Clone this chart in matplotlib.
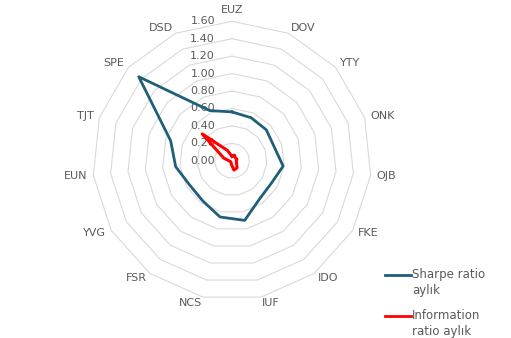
import matplotlib.pyplot as plt
import numpy as np
from matplotlib.lines import Line2D
from matplotlib.transforms import offset_copy

categories = ['EUZ', 'DOV', 'YTY', 'ONK', 'OJB', 'FKE', 'IDO', 'IUF',
              'NCS', 'FSR', 'YVG', 'EUN', 'TJT', 'SPE', 'DSD']
sharpe = [0.56, 0.54, 0.53, 0.51, 0.59, 0.52, 0.54, 0.70,
          0.66, 0.57, 0.56, 0.65, 0.74, 1.44, 0.63]
information = [0.05, 0.07, 0.05, 0.06, 0.05, 0.06, 0.10, 0.11,
               0.04, 0.02, 0.02, 0.03, 0.10, 0.46, 0.13]
ring_levels = [0.2, 0.4, 0.6, 0.8, 1.0, 1.2, 1.4, 1.6]
tick_levels = [0.0] + ring_levels

grid_col = '#d9d9d9'
text_col = '#595959'
blue = '#1f5f7a'
red = '#ff0000'

n = len(categories)
theta = np.arange(n) * 2 * np.pi / n
theta_closed = np.append(theta, theta[0])

fig = plt.figure(figsize=(5.11, 3.38), dpi=100)
ax = fig.add_axes([0.181, 0.112, 0.546, 0.825], projection='polar')
ax.set_theta_zero_location('N')
ax.set_theta_direction(-1)
ax.set_ylim(0, 1.6)
ax.grid(False)
ax.set_xticks([])
ax.set_yticks([])
ax.spines['polar'].set_visible(False)
ax.patch.set_visible(False)

# polygon rings (no spokes)
for lvl in ring_levels:
    ax.plot(theta_closed, [lvl] * (n + 1), color=grid_col, lw=0.8, clip_on=False, zorder=1)

# radial value labels, left of the top axis
lab_tr = offset_copy(ax.transData, fig=fig, x=-17, y=0, units='dots')
for lvl in tick_levels:
    ax.text(0, lvl, f'{lvl:.2f}', transform=lab_tr, ha='right', va='center',
            fontsize=8, color=text_col, zorder=2)

# category labels around the outside
for t, name in zip(theta, categories):
    s = np.sin(t)
    if abs(s) < 0.05:
        ha = 'center'
    elif s > 0:
        ha = 'left'
    else:
        ha = 'right'
    va = 'bottom' if np.cos(t) > 0.99 else 'center'
    ax.text(t, 1.67, name, ha=ha, va=va, fontsize=8, color=text_col)

ax.plot(theta_closed, sharpe + sharpe[:1], color=blue, lw=2.0,
        solid_joinstyle='round', zorder=3, clip_on=False)
ax.plot(theta_closed, information + information[:1], color=red, lw=2.2,
        solid_joinstyle='round', zorder=4, clip_on=False)

# legend on the right
legend_items = [(blue, 'Sharpe ratio\naylık', 275), (red, 'Information\nratio aylık', 316)]
for col, label, ypx in legend_items:
    y = 1 - ypx / 338
    fig.add_artist(Line2D([385 / 511, 411 / 511], [y, y], color=col, lw=2.0))
    fig.text(412 / 511, y + 7 / 338, label, ha='left', va='top', fontsize=8.5,
             color=text_col, linespacing=1.3)

fig.savefig('out.png', dpi=100)
